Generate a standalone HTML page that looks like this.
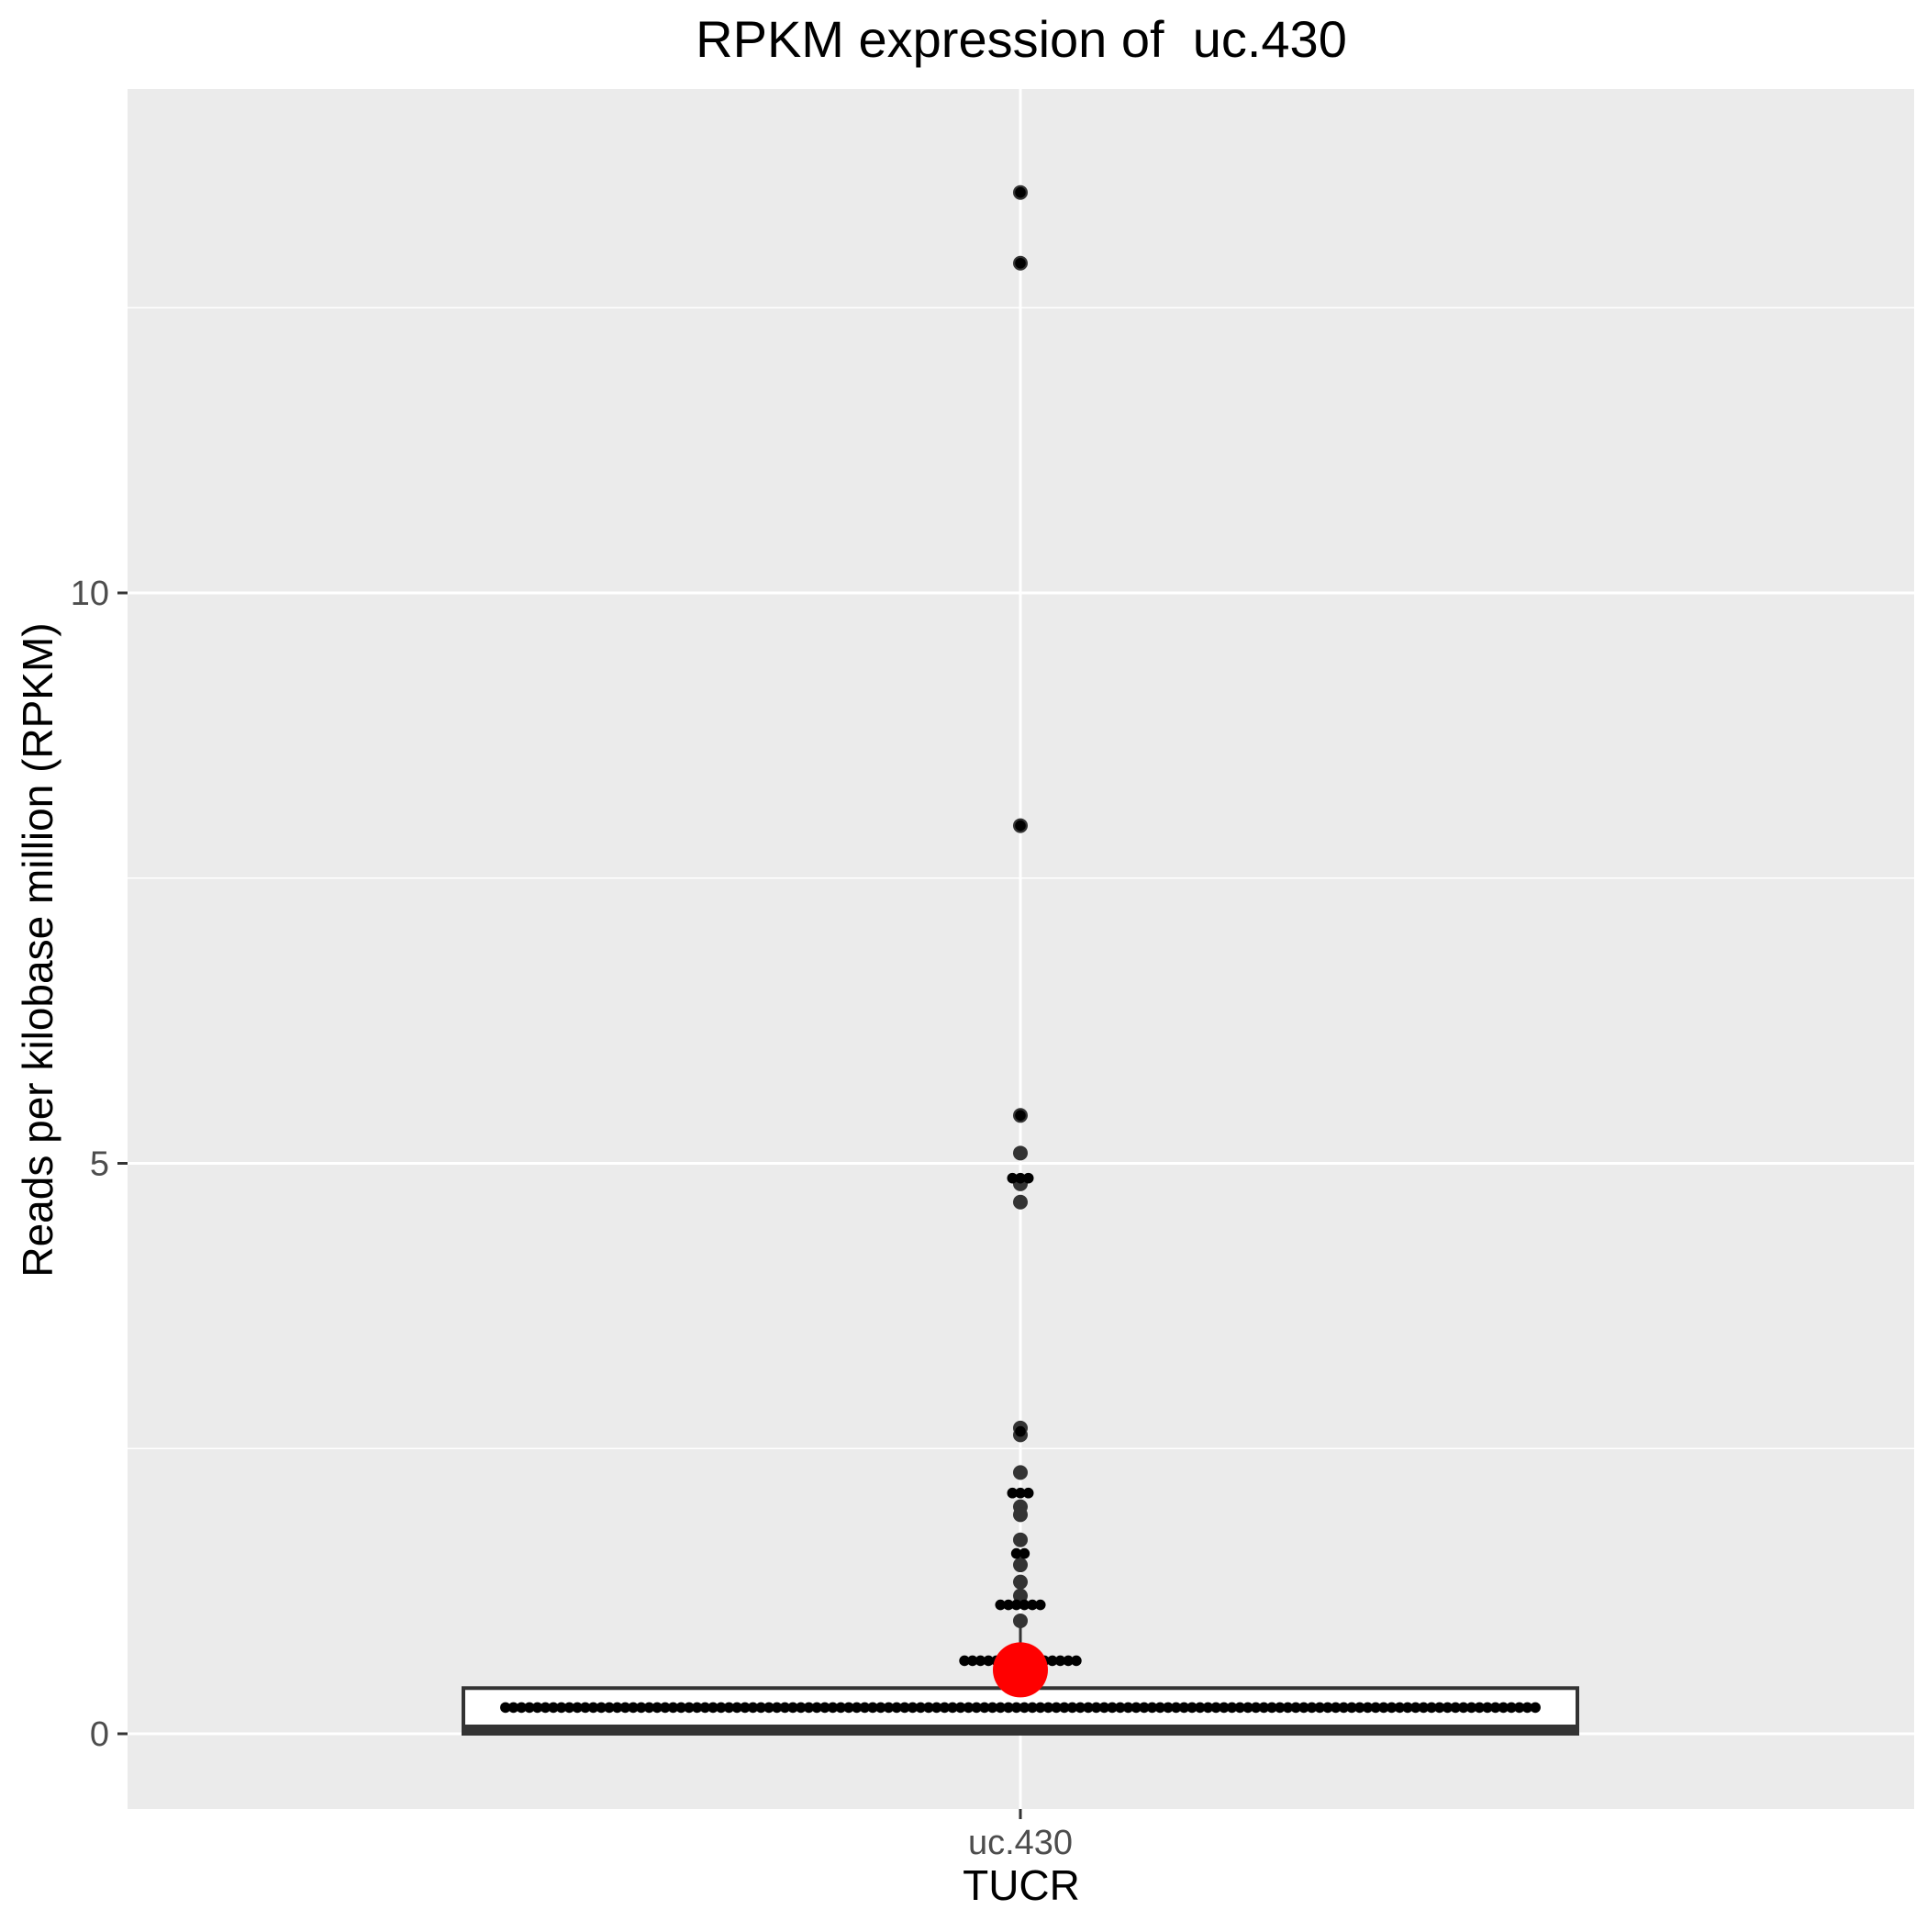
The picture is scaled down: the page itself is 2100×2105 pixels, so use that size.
<!DOCTYPE html>
<html><head><meta charset="utf-8"><style>
html,body{margin:0;padding:0;background:#fff;}
svg text{font-family:"Liberation Sans",Arial,sans-serif;}
</style></head><body>
<svg id="chart" width="2100" height="2100" viewBox="0 0 2100 2100" xmlns="http://www.w3.org/2000/svg">
<rect x="0" y="0" width="2100" height="2100" fill="#fff"/>
<rect x="139" y="97" width="1947" height="1874" fill="#ebebeb"/>
<g id="grid"></g>
<g id="marks"></g>
<g id="axes"></g>
<text x="1113" y="62" font-size="56" text-anchor="middle" fill="#000">RPKM expression of&#160; uc.430</text>
<text x="1113" y="2070" font-size="46" text-anchor="middle" fill="#000">TUCR</text>
<text transform="translate(57,1035) rotate(-90)" font-size="46" text-anchor="middle" fill="#000">Reads per kilobase million (RPKM)</text>
</svg>
<script>
const categories = ["uc.430"];
const yTicks = [0, 5, 10];
const yMinor = [2.5, 7.5, 12.5];
const boxLower = 0;
const boxMedian = 0;
const boxUpper = 0.4;
const whiskerHigh = 0.93;
const meanValue = 0.56;
const dotRowValues = [0.23, 0.64, 1.13, 1.58, 2.11, 4.87];
const dotRowCounts = [130, 15, 6, 2, 3, 3];
const outlierValues = [13.51, 12.89, 7.96, 5.42, 5.09, 4.82, 4.66, 2.68, 2.62, 2.29, 1.99, 1.92, 1.70, 1.48, 1.33, 1.21, 0.99];
const singleDots = [13.51, 12.89, 7.96, 5.42, 2.65];

const NS = "http://www.w3.org/2000/svg";
function y(v){ return 1889 - 124.3 * v; }
function x(i){ return 1112 + i * 1000; }
function mk(parent, tag, attrs){
  const el = document.createElementNS(NS, tag);
  for (const k in attrs) el.setAttribute(k, attrs[k]);
  document.getElementById(parent).appendChild(el);
  return el;
}
yMinor.forEach(v => {
  const l = mk('grid','line',{x1:139,x2:2086,y1:y(v),y2:y(v),stroke:'#fff','stroke-width':1.5});
  
  
});
yTicks.forEach(v => {
  const l = mk('grid','line',{x1:139,x2:2086,y1:y(v),y2:y(v),stroke:'#fff','stroke-width':3});
  
  
  const t = mk('axes','line',{x1:128,x2:139,y1:y(v),y2:y(v),stroke:'#333','stroke-width':3});
  
  
  const tx = mk('axes','text',{x:119,y:y(v)+13,'font-size':38,'text-anchor':'end',fill:'#4d4d4d'});
  tx.textContent = String(v);
  
  
});
categories.forEach((c,i) => {
  const l = mk('grid','line',{x1:x(i),x2:x(i),y1:97,y2:1971,stroke:'#fff','stroke-width':3});
  
  
  const t = mk('axes','line',{x1:x(i),x2:x(i),y1:1971,y2:1982,stroke:'#333','stroke-width':3});
  
  
  const tx = mk('axes','text',{x:x(i),y:2020,'font-size':38,'text-anchor':'middle',fill:'#4d4d4d'});
  tx.textContent = c;
  
  

  const cx = x(i);
  const wh = mk('marks','line',{x1:cx,x2:cx,y1:y(boxUpper),y2:y(whiskerHigh),stroke:'#333','stroke-width':3});
  
  
  const bx = mk('marks','rect',{x:cx-607,y:y(boxUpper),width:1214,height:y(boxLower)-y(boxUpper),fill:'#fff',stroke:'#333','stroke-width':4});
  
  
  const md = mk('marks','line',{x1:cx-609,x2:cx+609,y1:y(boxMedian)-5,y2:y(boxMedian)-5,stroke:'#333','stroke-width':10});
  
  
  outlierValues.forEach(v => {
    const o = mk('marks','circle',{cx:cx,cy:y(v),r:8,fill:'#333'});
    
    
  });
  dotRowValues.forEach((v,k) => {
    const n = dotRowCounts[k];
    for (let j=0;j<n;j++){
      const d = mk('marks','circle',{cx:cx+(j-(n-1)/2)*8.7,cy:y(v),r:5.8,fill:'#000'});
      
      
    }
  });
  singleDots.forEach(v => {
    const d = mk('marks','circle',{cx:cx,cy:y(v),r:5.8,fill:'#000'});
    
    
  });
  const m = mk('marks','circle',{cx:cx,cy:y(meanValue),r:30,fill:'#ff0000'});
  
  
});
</script>
</body></html>
